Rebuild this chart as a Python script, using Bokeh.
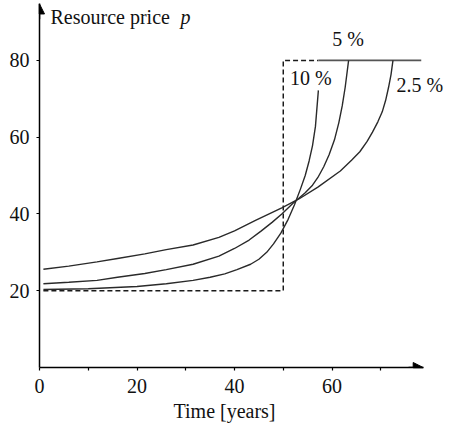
from bokeh.plotting import figure
from bokeh.models import Label, Arrow, NormalHead, FixedTicker, Range1d, Title
from bokeh.embed import file_html
from bokeh.resources import INLINE

# ---- data ----
years_10 = [0.8, 10, 20, 26, 31.5, 35, 38, 40.5, 43.3, 45, 46.6, 48, 49.5, 51, 52.3,
            53.5, 54.5, 55.3, 56.0, 56.6, 57.2]
price_10 = [20.3, 20.5, 21.1, 21.8, 22.7, 23.5, 24.4, 25.5, 26.9, 28.2, 30.0, 32.2, 35.0, 38.6, 42.4,
            46.4, 50.0, 53.8, 57.8, 62.8, 72.2]

years_5 = [0.8, 6, 11.8, 16, 21.6, 26, 31.5, 36.8, 40, 43, 45.5, 47.7, 49.7, 52, 54.5, 56,
           57.1, 58.3, 59.4, 60.5, 61.4, 62.1, 62.7, 63.4]
price_5 = [21.8, 22.2, 22.7, 23.5, 24.5, 25.5, 26.9, 29.0, 31.0, 33.2, 35.6, 37.8, 40.0, 42.8, 45.5, 47.5,
           49.5, 52.3, 55.4, 59.3, 63.8, 68.2, 73.0, 80.0]

years_25 = [0.8, 6, 11.8, 16, 21.6, 26, 31.5, 36.8, 40, 44.3, 49.7, 53.2, 57.1, 61.7, 64, 65.7,
            67.2, 68.3, 69.4, 70.3, 71.0, 71.6, 72.1, 72.5]
price_25 = [25.6, 26.4, 27.5, 28.4, 29.6, 30.7, 31.9, 33.9, 35.6, 38.3, 41.6, 43.9, 47.0, 51.2, 54.0, 56.2,
            58.9, 61.3, 64.0, 66.6, 69.6, 73.0, 76.3, 80.0]

limit_x = [0.8, 50, 50, 57.2]
limit_y = [20, 20, 80, 80]

backstop_x = [57.2, 78.3]
backstop_y = [80, 80]

x_ticks = [0, 20, 40, 60]
x_minor = [10, 30, 50, 70]
y_ticks = [20, 40, 60, 80]

labels = ["10 %", "5 %", "2.5 %"]
label_x = [51.4, 63.3, 73.2]
label_y = [75.4, 85.6, 73.6]

X_TIP = 78.7
Y_TIP = 94.7
FONT = "'Liberation Serif', 'Times New Roman', serif"
FSIZE = "20px"
INK = "#111111"

p = figure(width=450, height=426,
           x_range=Range1d(0, 84.3), y_range=Range1d(0, 95.6),
           output_backend="svg", toolbar_location=None,
           min_border_left=39, min_border_right=0,
           min_border_top=0, min_border_bottom=59)
p.grid.visible = False
p.outline_line_color = None
p.background_fill_color = "white"
p.border_fill_color = "white"

for ax in (p.xaxis[0], p.yaxis[0]):
    ax.axis_line_color = "black"
    ax.axis_line_width = 1.5
    ax.major_tick_line_color = "black"
    ax.minor_tick_line_color = "black"
    ax.major_tick_line_width = 1.2
    ax.minor_tick_line_width = 1.2
    ax.major_tick_in = 0
    ax.major_tick_out = 3
    ax.minor_tick_in = 0
    ax.minor_tick_out = 3
    ax.major_label_text_font = FONT
    ax.major_label_text_font_size = FSIZE
    ax.major_label_text_color = INK

p.xaxis[0].ticker = FixedTicker(ticks=x_ticks, minor_ticks=x_minor)
p.xaxis[0].bounds = (0, X_TIP)
p.xaxis[0].major_label_standoff = 8

p.yaxis[0].ticker = FixedTicker(ticks=y_ticks, minor_ticks=[])
p.yaxis[0].bounds = (0, Y_TIP)
p.yaxis[0].major_label_standoff = 7

# x-axis caption placed under the tick labels
p.add_layout(Title(text="Time [years]", align="left", offset=134, standoff=4,
                   text_font=FONT, text_font_size=FSIZE, text_font_style="normal",
                   text_color=INK), "below")

# arrow heads at the axis ends
p.add_layout(Arrow(end=NormalHead(size=10, fill_color="black", line_color="black"),
                   x_start=0, y_start=Y_TIP - 4, x_end=0, y_end=Y_TIP,
                   line_color="black", line_width=1.5))
p.add_layout(Arrow(end=NormalHead(size=10, fill_color="black", line_color="black"),
                   x_start=X_TIP - 3, y_start=0, x_end=X_TIP, y_end=0,
                   line_color="black", line_width=1.5))

curve_color = "#2a2a2a"
p.line(limit_x, limit_y, line_color="#1a1a1a", line_width=1.5, line_dash="5 3")
p.line(backstop_x, backstop_y, line_color="#555555", line_width=1.6)
p.line(years_10, price_10, line_color=curve_color, line_width=1.4)
p.line(years_5, price_5, line_color=curve_color, line_width=1.4)
p.line(years_25, price_25, line_color=curve_color, line_width=1.4)

for t, lx, ly in zip(labels, label_x, label_y):
    p.add_layout(Label(x=lx, y=ly, text=t, text_font=FONT, text_font_size=FSIZE,
                       text_color=INK, text_baseline="middle",
                       text_align="center" if t == "5 %" else "left"))

p.add_layout(Label(x=0, y=91.3, x_offset=11, text="Resource price",
                   text_font=FONT, text_font_size=FSIZE, text_color=INK,
                   text_baseline="middle"))
p.add_layout(Label(x=0, y=91.3, x_offset=141, text="p",
                   text_font=FONT, text_font_size=FSIZE, text_font_style="italic",
                   text_color=INK, text_baseline="middle"))

open("out.html", "w").write(file_html(p, INLINE))
